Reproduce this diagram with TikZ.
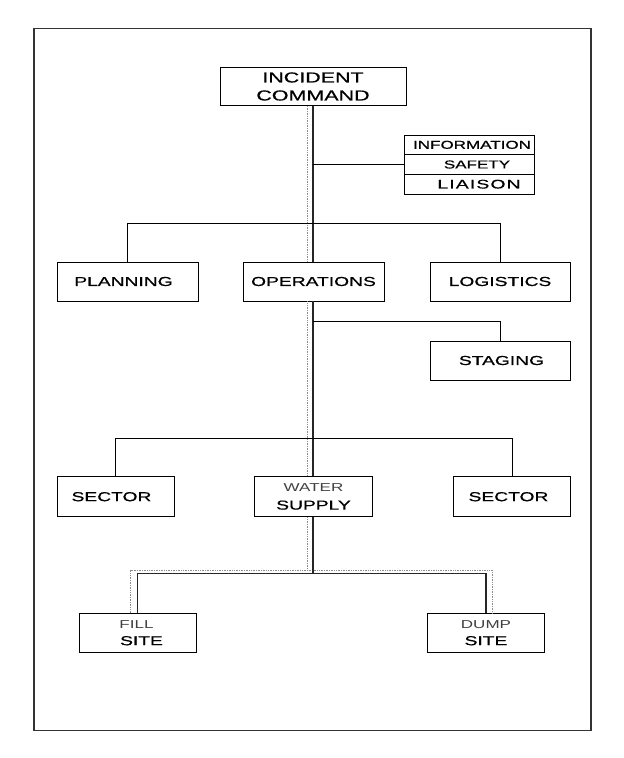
\documentclass[tikz,border=0pt]{standalone}
\usepackage{fontspec}
\newfontfamily\wf{Liberation Sans}[FakeStretch=1.48,FakeBold=0.6]
\newfontfamily\wfs{Liberation Sans}[FakeStretch=1.55,LetterSpace=9,FakeBold=0.6]
\newfontfamily\wfl{Liberation Sans}[FakeStretch=1.48]
\newcommand\litetxt[1]{{\wfl\color{black!75}\fontsize{11.5}{13}\selectfont #1}}
\begin{document}
\begin{tikzpicture}[x=1pt,y=-1pt,
  box/.style={draw=black, line width=0.8pt, fill=white, inner sep=0pt, align=center,
    font=\wf\fontsize{13}{17}\selectfont},
  conn/.style={draw=black, line width=0.8pt},
  trunk/.style={draw=black!85, line width=1.3pt},
  shadowline/.style={draw=black!45, line width=0.7pt, densely dotted}]
\useasboundingbox (0,0) rectangle (624,758);
\draw[black!80, line width=1.4pt] (34,28.3) rectangle (591,730.5);

% boxes
\node[box, minimum width=186pt, minimum height=38pt, font=\wf\fontsize{14.5}{18}\selectfont] (ic) at (313,86.5) {INCIDENT\\COMMAND};
\node[box, minimum width=130pt, minimum height=19.67pt, font=\wf\fontsize{11.5}{13}\selectfont] (info1) at (469,144.83) {\hspace*{6pt}INFORMATION};
\node[box, minimum width=130pt, minimum height=19.67pt, font=\wf\fontsize{11.5}{13}\selectfont] (info2) at (469,164.5) {\hspace*{16pt}SAFETY};
\node[box, minimum width=130pt, minimum height=19.67pt, font=\wfs\fontsize{12.5}{13}\selectfont] (info3) at (469,184.17) {\hspace*{20pt}LIAISON};

\node[box, minimum width=141pt, minimum height=39pt] (plan) at (127.5,281.5) {PLANNING\hspace*{8pt}};
\node[box, minimum width=141pt, minimum height=39pt] (ops) at (313.5,281.5) {OPERATIONS};
\node[box, minimum width=140pt, minimum height=39pt] (log) at (500,281.5) {LOGISTICS};
\node[box, minimum width=140pt, minimum height=39pt] (stag) at (500,360.5) {\hspace*{3pt}STAGING};

\node[box, minimum width=117pt, minimum height=40pt] (secl) at (115.5,496.7) {SECTOR\hspace*{8pt}};
\node[box, minimum width=118pt, minimum height=40pt] (water) at (313.5,496.7) {\litetxt{WATER}\\[1pt]SUPPLY};
\node[box, minimum width=117pt, minimum height=40pt] (secr) at (512,496.7) {SECTOR\hspace*{7pt}};

\node[box, minimum width=117pt, minimum height=39pt] (fill) at (137.5,632.8) {\hspace*{8pt}\litetxt{FILL}\hspace*{10pt}\\\hspace*{8pt}SITE};
\node[box, minimum width=117pt, minimum height=39pt] (dump) at (486,632.8) {\litetxt{DUMP}\\SITE};

% junction coordinates
\coordinate (h1) at (313,223.3);
\coordinate (h2) at (313,321);
\coordinate (h3) at (313,438.3);
\coordinate (bj) at (313,573.3);
\coordinate (dj) at (307,570);

% dotted shadow of the trunk
\draw[shadowline] ([xshift=-6pt]ic.south) -- ([xshift=-6pt]ic.south |- ops.north);
\draw[shadowline] (dj |- ops.south) -- (dj |- water.north);
\draw[shadowline] (dj |- water.south) -- (dj);
\draw[shadowline] ([xshift=-7pt]fill.north) |- (dj) -| ([xshift=6pt]dump.north);

% trunk
\draw[trunk] (ic.south) -- (ic.south |- ops.north);
\draw[trunk] (ic.south |- ops.south) -- (ic.south |- water.north);
\draw[trunk] (ic.south |- water.south) -- (bj);
\draw[trunk] (fill.north) |- (bj) -| (dump.north);

% branches
\draw[conn] (ic.south |- info2.west) -- (info2.west);
\draw[conn] (plan.north) |- (h1) -| (log.north);
\draw[conn] (h2) -| (stag.north);
\draw[conn] (secl.north) |- (h3) -| (secr.north);
\end{tikzpicture}
\end{document}
